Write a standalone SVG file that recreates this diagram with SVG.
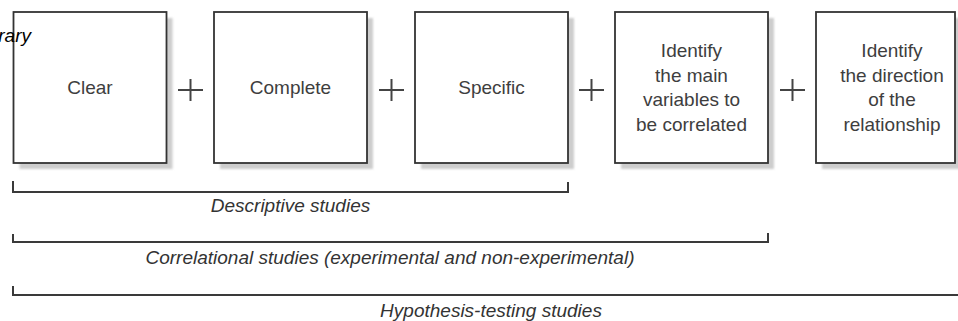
<svg xmlns="http://www.w3.org/2000/svg" width="958" height="321" viewBox="0 0 958 321">
<style>
.box{fill:#fff;stroke:#333;stroke-width:1.8}
.shadow{fill:#cdcdcd}
.lbl{font-family:"Liberation Sans",Arial,sans-serif;font-size:19px;fill:#3e3e3e;text-anchor:middle}
.cap{font-family:"Liberation Sans",Arial,sans-serif;font-size:19px;font-style:italic;fill:#333;text-anchor:middle}
.plus{stroke:#444;stroke-width:2;fill:none}
.br{stroke:#3a3a3a;stroke-width:2;fill:none}
.brs{stroke:#c4c4c4;stroke-width:2;fill:none}
</style>
<defs>
<filter id="blur" x="-10%" y="-10%" width="120%" height="120%"><feGaussianBlur stdDeviation="1"/></filter>
</defs>
<rect width="958" height="321" fill="#fff"/>

<g id="node-clear">
<rect class="shadow" x="19.5" y="18" width="153" height="151" filter="url(#blur)"/>
<rect class="box" x="13.5" y="12" width="153" height="151"/>
<text class="lbl" x="90" y="94">Clear</text>
</g>

<g id="node-complete">
<rect class="shadow" x="220" y="18" width="153" height="151" filter="url(#blur)"/>
<rect class="box" x="214" y="12" width="153" height="151"/>
<text class="lbl" x="290.5" y="94">Complete</text>
</g>

<g id="node-specific">
<rect class="shadow" x="421" y="18" width="153" height="151" filter="url(#blur)"/>
<rect class="box" x="415" y="12" width="153" height="151"/>
<text class="lbl" x="491.5" y="94">Specific</text>
</g>

<g id="node-variables">
<rect class="shadow" x="621" y="18" width="153" height="151" filter="url(#blur)"/>
<rect class="box" x="615" y="12" width="153" height="151"/>
<text class="lbl" x="691.5" y="57">Identify</text>
<text class="lbl" x="691.5" y="81.5">the main</text>
<text class="lbl" x="691.5" y="106">variables to</text>
<text class="lbl" x="691.5" y="130.5">be correlated</text>
</g>

<g id="node-direction">
<rect class="shadow" x="822" y="18" width="139" height="151" filter="url(#blur)"/>
<rect class="box" x="816" y="12" width="139" height="151"/>
<text class="lbl" x="892" y="57">Identify</text>
<text class="lbl" x="892" y="81.5">the direction</text>
<text class="lbl" x="892" y="106">of the</text>
<text class="lbl" x="892" y="130.5">relationship</text>
</g>

<g id="operators">
<path class="plus" d="M178 90H203M190.5 79V101"/>
<path class="plus" d="M379 90H404M391.5 79V101"/>
<path class="plus" d="M579 90H604M591.5 79V101"/>
<path class="plus" d="M780 90H805M792.5 79V101"/>
</g>

<g id="connectors">
<path class="brs" d="M15 194H570" filter="url(#blur)"/>
<path class="br" d="M13 181V192H568V182"/>
<path class="brs" d="M15 244H770" filter="url(#blur)"/>
<path class="br" d="M13 234V242H768V233"/>
<path class="brs" d="M15 297H970" filter="url(#blur)"/>
<path class="br" d="M13 286V295H970"/>
</g>

<g id="captions">
<text class="cap" x="290.5" y="212">Descriptive studies</text>
<text class="cap" x="390" y="264">Correlational studies (experimental and non-experimental)</text>
<text class="cap" x="491" y="317">Hypothesis-testing studies</text>
</g>

<text x="31" y="42" font-family="'Liberation Sans',Arial,sans-serif" font-size="19" font-style="italic" fill="#000" text-anchor="end">rary</text>
</svg>
